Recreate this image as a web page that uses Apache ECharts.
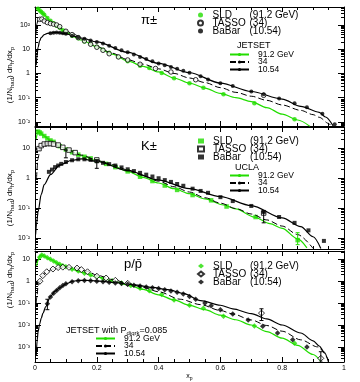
<!DOCTYPE html>
<html>
<head>
<meta charset="utf-8">
<script src="https://cdn.jsdelivr.net/npm/echarts@6/dist/echarts.min.js"></script>
<style>
  html, body { margin: 0; padding: 0; background: #fff; }
  #chart { width: 360px; height: 382px; }
</style>
</head>
<body>
<div id="chart"></div>
<script>
// ---- pi+- panel ----
const piSldX = [0.01,0.015,0.02,0.025,0.03,0.04,0.05,0.06,0.07,0.08,0.09,0.1,0.12,0.14,0.16,0.18,0.2,0.22,0.24,0.27,0.3,0.34,0.37,0.41,0.45,0.5,0.545,0.61,0.71,0.84]
const piSldY = [468,398,347,302,263,195,148,117,93,76,60,49,36,28,21,16.6,12.6,9.5,7.1,4.8,3.2,2.1,1.66,1.05,0.63,0.39,0.26,0.138,0.059,0.013]
const piTassoX = [0.015,0.022,0.03,0.04,0.05,0.06,0.07,0.08,0.1,0.12,0.14,0.16,0.18,0.2,0.22,0.24,0.27,0.3,0.34,0.39,0.44,0.52,0.74]
const piTassoY = [170,175,145,125,115,108,100,85,55,40,30,22,16,12,9,6.5,4.8,3.6,2.4,1.6,1.15,0.55,0.125]
const piBabarX = [0.05,0.06,0.07,0.08,0.09,0.1,0.12,0.14,0.16,0.18,0.2,0.22,0.24,0.26,0.28,0.3,0.32,0.34,0.36,0.38,0.4,0.42,0.44,0.46,0.48,0.5,0.536,0.56,0.6,0.64,0.7,0.74,0.79,0.84,0.88,0.93,0.97]
const piBabarY = [46,48,49,48,46,43,36,31,27,23,20,17,13.8,11.2,9.1,7.4,6.0,4.8,3.9,3.2,2.6,2.2,1.86,1.55,1.29,1.07,0.76,0.56,0.39,0.3,0.18,0.14,0.093,0.059,0.04,0.022,0.008]
const piJ91X = [0.004,0.01,0.02,0.03,0.05,0.07,0.1,0.15,0.2,0.25,0.3,0.35,0.4,0.45,0.5,0.55,0.6,0.65,0.7,0.75,0.8,0.85,0.89]
const piJ91Y = [520,468,340,260,148,93,49,24,12.6,6.3,3.3,1.95,1.15,0.65,0.4,0.25,0.15,0.1,0.069,0.039,0.021,0.012,0.0065]
const piJ34X = [0.003,0.006,0.01,0.015,0.02,0.03,0.045,0.065,0.09,0.12,0.16,0.2,0.25,0.3,0.35,0.4,0.45,0.5,0.55,0.6,0.65,0.7,0.75,0.8,0.86,0.9,0.92,0.95,0.96]
const piJ34Y = [40,110,165,185,180,150,125,105,70,45,24,13,6.8,3.7,2.4,1.55,1.0,0.65,0.42,0.26,0.166,0.115,0.078,0.05,0.03,0.02,0.0155,0.0087,0.0063]
const piJ10X = [0.004,0.006,0.01,0.015,0.02,0.03,0.04,0.05,0.07,0.1,0.15,0.2,0.3,0.4,0.5,0.6,0.7,0.8,0.86,0.92,0.94,0.965]
const piJ10Y = [2.2,5,12,22,30,40,45,47,49,43,29,20,7.4,2.6,1.07,0.4,0.18,0.088,0.044,0.025,0.016,0.0068]

// ---- K+- panel ----
const kSldX = [0.01,0.015,0.02,0.03,0.04,0.05,0.06,0.08,0.1,0.12,0.14,0.16,0.18,0.2,0.23,0.26,0.3,0.34,0.38,0.42,0.46,0.51,0.57,0.62,0.714,0.85]
const kSldY = [35,33,30,25,21,17.8,16,11.5,8.9,7.2,6.0,5.1,4.5,3.8,2.95,2.3,1.66,1.1,0.79,0.56,0.40,0.27,0.18,0.112,0.05,0.0085]
const kTassoX = [0.013,0.02,0.03,0.04,0.05,0.06,0.075,0.09,0.11,0.13,0.2,0.74]
const kTassoY = [9.5,12,13.5,14,14,13.5,12.5,10.5,8.5,7,4.0,0.068]
const kBabarX = [0.045,0.055,0.065,0.075,0.085,0.1,0.12,0.14,0.16,0.18,0.2,0.22,0.24,0.26,0.28,0.3,0.32,0.34,0.36,0.38,0.4,0.42,0.44,0.46,0.48,0.51,0.536,0.56,0.6,0.64,0.7,0.74,0.79,0.84,0.885,0.935]
const kBabarY = [1.6,1.9,2.3,2.6,2.95,3.4,3.9,4.2,4.2,4.0,3.6,3.2,2.9,2.6,2.25,1.95,1.7,1.48,1.29,1.12,0.98,0.85,0.74,0.63,0.55,0.44,0.37,0.32,0.23,0.17,0.117,0.074,0.05,0.032,0.018,0.008]
const kJ91X = [0.004,0.008,0.012,0.02,0.03,0.05,0.08,0.1,0.15,0.2,0.25,0.3,0.35,0.4,0.45,0.5,0.55,0.61,0.65,0.71,0.76,0.8,0.85,0.88]
const kJ91Y = [20,32,35,30,25,17.8,11.5,8.9,5.5,3.8,2.6,1.66,1.05,0.68,0.44,0.3,0.2,0.126,0.093,0.05,0.03,0.021,0.0093,0.0047]
const kJ34X = [0.005,0.01,0.015,0.02,0.03,0.045,0.06,0.08,0.1,0.15,0.2,0.25,0.3,0.35,0.4,0.45,0.5,0.55,0.6,0.65,0.7,0.75,0.8,0.85,0.9]
const kJ34Y = [1.0,4.5,8.5,11.5,14,15,14,11.5,9.3,5.8,4.0,2.8,1.85,1.2,0.78,0.51,0.34,0.22,0.145,0.096,0.063,0.04,0.025,0.013,0.0045]
const kJ10X = [0.002,0.005,0.01,0.02,0.03,0.05,0.08,0.12,0.15,0.2,0.3,0.4,0.5,0.6,0.7,0.8,0.86,0.9,0.925]
const kJ10Y = [0.013,0.03,0.074,0.28,0.6,1.3,2.7,3.9,4.3,3.6,1.75,0.85,0.44,0.24,0.12,0.047,0.024,0.011,0.0045]

// ---- p/pbar panel ----
const pSldX = [0.015,0.022,0.03,0.04,0.05,0.06,0.07,0.08,0.09,0.1,0.12,0.14,0.16,0.18,0.2,0.22,0.25,0.28,0.31,0.34,0.37,0.41,0.45,0.5,0.545,0.61,0.71,0.84]
const pSldY = [12.6,15.8,14.1,11.7,10,8.3,6.9,5.9,5.1,4.6,3.5,2.9,2.3,1.9,1.58,1.32,1.05,0.83,0.63,0.48,0.37,0.25,0.14,0.08,0.058,0.025,0.0091,0.00145]
const pTassoX = [0.016,0.025,0.038,0.058,0.075,0.09,0.11,0.136,0.15,0.17,0.2,0.23,0.26,0.3,0.733,0.925]
const pTassoY = [1.0,1.8,2.7,3.6,4.2,4.4,4.3,4.0,3.4,2.7,1.7,1.4,1.1,0.8,0.035,0.0003]
const pBabarX = [0.04,0.05,0.06,0.07,0.08,0.09,0.1,0.12,0.14,0.16,0.18,0.2,0.22,0.24,0.26,0.28,0.3,0.32,0.34,0.36,0.38,0.4,0.42,0.44,0.46,0.48,0.5,0.52,0.55,0.57,0.6,0.64,0.69,0.737,0.785,0.834,0.88]
const pBabarY = [0.093,0.19,0.28,0.38,0.5,0.63,0.76,0.95,1.05,1.07,1.05,1.0,0.95,0.89,0.83,0.78,0.72,0.66,0.6,0.55,0.5,0.46,0.41,0.36,0.31,0.26,0.2,0.15,0.1,0.075,0.05,0.032,0.017,0.0087,0.0043,0.0021,0.001]
const pJ91X = [0.005,0.01,0.015,0.02,0.03,0.05,0.08,0.1,0.15,0.2,0.25,0.3,0.35,0.4,0.45,0.5,0.55,0.6,0.65,0.7,0.75,0.8,0.85,0.9,0.925]
const pJ91Y = [5,9,14,16,14,10,5.9,4.6,2.6,1.58,1.05,0.68,0.42,0.24,0.14,0.079,0.05,0.028,0.0174,0.01,0.005,0.0025,0.00117,0.00045,0.00022]
const pJ34X = [0.004,0.006,0.01,0.016,0.025,0.038,0.058,0.09,0.13,0.17,0.2,0.25,0.3,0.35,0.4,0.47,0.536,0.6,0.64,0.7,0.75,0.8,0.86,0.915,0.95]
const pJ34Y = [0.1,0.19,0.6,1.0,1.8,2.7,3.6,4.4,4.1,2.8,1.9,1.2,0.8,0.52,0.33,0.15,0.085,0.046,0.032,0.017,0.0095,0.0052,0.0021,0.001,0.00025]
const pJ10X = [0.004,0.007,0.01,0.015,0.02,0.026,0.035,0.05,0.065,0.08,0.1,0.124,0.146,0.18,0.21,0.26,0.32,0.38,0.43,0.48,0.536,0.6,0.64,0.7,0.75,0.8,0.86,0.9,0.92,0.935,0.95]
const pJ10Y = [0.0004,0.002,0.005,0.011,0.02,0.035,0.07,0.2,0.35,0.5,0.75,1.0,1.1,1.08,1.0,0.86,0.68,0.52,0.41,0.28,0.13,0.08,0.055,0.033,0.019,0.01,0.0043,0.0019,0.0011,0.0006,0.0002]

// error bars [x, low, high]
const kErrBlack = [[0.1,4.7,8.5],[0.2,2.1,4.0],[0.74,0.032,0.074]]
const kErrGreen = [[0.85,0.006,0.015]]
const pErrBlack = [[0.733,0.016,0.055],[0.925,0.0002,0.0006],[0.04,0.05,0.15]]

const GREEN = '#22dd00'
const FONT = 'Liberation Sans'

function pts(xs, ys) { return xs.map((x, i) => [x, ys[i]]) }

const sup = {'-': '\u207b', '0': '\u2070', '1': '\u00b9', '2': '\u00b2', '3': '\u00b3'}
function logLabel(v) {
    let n = Math.log10(v), r = Math.round(n)
    if (Math.abs(n - r) > 1e-6) return ''
    if (r === 0) return '1'
    if (r === 1) return '10'
    return '10' + String(r).split('').map(c => sup[c]).join('')
}

const panels = [
    {key: 'pi', top: 7, height: 119, min: 0.0068, max: 550, sym: 'circle',
     sld: pts(piSldX, piSldY), tasso: pts(piTassoX, piTassoY), babar: pts(piBabarX, piBabarY),
     j91: pts(piJ91X, piJ91Y), j34: pts(piJ34X, piJ34Y), j10: pts(piJ10X, piJ10Y), errB: [], errG: []},
    {key: 'k', top: 127, height: 122, min: 0.0043, max: 50, sym: 'rect',
     sld: pts(kSldX, kSldY), tasso: pts(kTassoX, kTassoY), babar: pts(kBabarX, kBabarY),
     j91: pts(kJ91X, kJ91Y), j34: pts(kJ34X, kJ34Y), j10: pts(kJ10X, kJ10Y), errB: kErrBlack, errG: kErrGreen},
    {key: 'p', top: 251, height: 118, min: 0.000204, max: 24, sym: 'diamond',
     sld: pts(pSldX, pSldY), tasso: pts(pTassoX, pTassoY), babar: pts(pBabarX, pBabarY),
     j91: pts(pJ91X, pJ91Y), j34: pts(pJ34X, pJ34Y), j10: pts(pJ10X, pJ10Y), errB: pErrBlack, errG: []}
]

const names = {
    SLD: ['SLD', '(91.2 GeV)'], TASSO: ['TASSO', '(34)'], BaBar: ['BaBar', '(10.54)'],
    '91': '91.2 GeV', '34': '34', '10': '10.54'
}

function errSeries(i, data, color) {
    return {
        type: 'custom', xAxisIndex: i, yAxisIndex: i, z: 6, silent: true,
        renderItem: function (params, api) {
            let a = api.coord([api.value(0), api.value(1)])
            let b = api.coord([api.value(0), api.value(2)])
            return {type: 'group', children: [
                {type: 'line', shape: {x1: a[0], y1: a[1], x2: b[0], y2: b[1]}, style: {stroke: color, lineWidth: 1}},
                {type: 'line', shape: {x1: a[0] - 2, y1: a[1], x2: a[0] + 2, y2: a[1]}, style: {stroke: color, lineWidth: 1}},
                {type: 'line', shape: {x1: b[0] - 2, y1: b[1], x2: b[0] + 2, y2: b[1]}, style: {stroke: color, lineWidth: 1}}
            ]}
        },
        data: data
    }
}

const grid = [], xAxis = [], yAxis = [], series = [], legend = []

panels.forEach((p, i) => {
    grid.push({left: 35, width: 309, top: p.top, height: p.height})
})
panels.forEach((p, i) => {
    xAxis.push({
        gridIndex: i, type: 'value', min: 0, max: 1, interval: 0.2, position: 'bottom',
        name: i === 2 ? 'x{s|p}' : '', nameLocation: 'middle', nameGap: 10,
        nameTextStyle: {fontFamily: FONT, fontSize: 7, color: '#000', rich: {s: {fontSize: 5, verticalAlign: 'bottom', padding: [4, 0, 0, 0]}}},
        axisLine: {onZero: false, lineStyle: {color: '#000', width: 1}},
        axisTick: {inside: true, length: 5, lineStyle: {color: '#000'}},
        minorTick: {show: true, splitNumber: 4, length: 3, lineStyle: {color: '#000'}},
        splitLine: {show: false},
        axisLabel: {show: i === 2, margin: 3, fontSize: 7, fontFamily: FONT, color: '#000',
            formatter: v => (v === 0 ? '0' : v === 1 ? '1' : v.toFixed(1))}
    })
})
panels.forEach((p, i) => {
    xAxis.push({
        gridIndex: i, type: 'value', min: 0, max: 1, interval: 0.2, position: 'top',
        axisLine: {onZero: false, lineStyle: {color: '#000', width: 1}},
        axisTick: {inside: true, length: 5, lineStyle: {color: '#000'}},
        minorTick: {show: true, splitNumber: 4, length: 3, lineStyle: {color: '#000'}},
        splitLine: {show: false}, axisLabel: {show: false}
    })
})
panels.forEach((p, i) => {
    yAxis.push({
        gridIndex: i, type: 'log', min: p.min, max: p.max, position: 'left',
        axisLine: {onZero: false, lineStyle: {color: '#000', width: 1}},
        axisTick: {inside: true, length: 6, lineStyle: {color: '#000'}},
        minorTick: {show: true, splitNumber: 9, length: 3, lineStyle: {color: '#000'}},
        splitLine: {show: false},
        axisLabel: {margin: 5, fontSize: 7, fontFamily: FONT, color: '#000', formatter: logLabel}
    })
})
panels.forEach((p, i) => {
    yAxis.push({
        gridIndex: i, type: 'log', min: p.min, max: p.max, position: 'right',
        axisLine: {onZero: false, lineStyle: {color: '#000', width: 1}},
        axisTick: {inside: true, length: 6, lineStyle: {color: '#000'}},
        minorTick: {show: true, splitNumber: 9, length: 3, lineStyle: {color: '#000'}},
        splitLine: {show: false}, axisLabel: {show: false}
    })
})

panels.forEach((p, i) => {
    const k = p.key
    series.push(
        {name: k + '91', type: 'line', xAxisIndex: i, yAxisIndex: i, data: p.j91, showSymbol: false, symbol: 'none',
         smooth: 0.3, smoothMonotone: 'x', lineStyle: {color: GREEN, width: 1.2}, itemStyle: {color: GREEN}, z: 2},
        {name: k + 'SLD', type: 'scatter', xAxisIndex: i, yAxisIndex: i, data: p.sld, symbol: p.sym,
         symbolSize: p.sym === 'diamond' ? 5.5 : 4.5, itemStyle: {color: GREEN}, z: 3},
        {name: k + '34', type: 'line', xAxisIndex: i, yAxisIndex: i, data: p.j34, symbol: 'none',
         smooth: 0.3, smoothMonotone: 'x', lineStyle: {color: '#000', width: 1, type: [6, 3]}, itemStyle: {color: '#000'}, z: 4},
        {name: k + 'TASSO', type: 'scatter', xAxisIndex: i, yAxisIndex: i, data: p.tasso, symbol: p.sym,
         symbolSize: p.sym === 'diamond' ? 6 : 4.5, itemStyle: {color: '#fff', borderColor: '#000', borderWidth: 1}, z: 5},
        {name: k + '10', type: 'line', xAxisIndex: i, yAxisIndex: i, data: p.j10, symbol: 'none',
         smooth: 0.3, smoothMonotone: 'x', lineStyle: {color: '#000', width: 1.2}, itemStyle: {color: '#000'}, z: 4},
        {name: k + 'BaBar', type: 'scatter', xAxisIndex: i, yAxisIndex: i, data: p.babar, symbol: p.sym,
         symbolSize: p.sym === 'diamond' ? 5.5 : 4, itemStyle: {color: '#000'}, z: 5}
    )
    if (p.errB.length) series.push(errSeries(i, p.errB, '#000'))
    if (p.errG.length) series.push(errSeries(i, p.errG, GREEN))
})

// marker legends (upper right of each panel)
const legA = [{key: 'pi', top: 10}, {key: 'k', top: 136}, {key: 'p', top: 261}]
legA.forEach(l => {
    legend.push({
        orient: 'vertical', left: 197, top: l.top, itemWidth: 6, itemHeight: 5, itemGap: -2, padding: 0,
        selectedMode: false,
        data: ['SLD', 'TASSO', 'BaBar'].map(n => l.key + n),
        formatter: name => {
            const t = names[name.replace(l.key, '')]
            return '{a|' + t[0] + '}{b|' + t[1] + '}'
        },
        textStyle: {fontFamily: FONT, fontSize: 10, lineHeight: 8, color: '#000',
            rich: {a: {width: 37, fontSize: 10, lineHeight: 8, padding: [0, 0, 0, 4], fontFamily: FONT},
                   b: {fontSize: 10, lineHeight: 8, fontFamily: FONT}}}
    })
})
// model-curve legends
const legB = [{key: 'pi', left: 229, top: 50}, {key: 'k', left: 229, top: 171}, {key: 'p', left: 95, top: 334}]
legB.forEach(l => {
    legend.push({
        orient: 'vertical', left: l.left, top: l.top, itemWidth: 19, itemHeight: 4, itemGap: -1.5, padding: 0,
        selectedMode: false,
        data: ['91', '34', '10'].map(n => l.key + n),
        formatter: name => '{a|' + names[name.replace(l.key, '')] + '}',
        textStyle: {fontFamily: FONT, fontSize: 8.5, lineHeight: 7, color: '#000',
            rich: {a: {fontSize: 8.5, lineHeight: 7, padding: [0, 0, 0, 4], fontFamily: FONT}}}
    })
})

const txt = (text, left, top, size) => ({text: text, left: left, top: top, padding: 0,
    textStyle: {fontFamily: FONT, fontSize: size, fontWeight: 'normal', color: '#000'}})

const title = [
    txt('\u03c0\u00b1', 141, 14, 13),
    txt('JETSET', 237, 41, 9),
    txt('K\u00b1', 141, 140, 13),
    txt('UCLA', 235, 163, 9),
    txt('p/p\u0304', 124, 258, 13),
    {text: 'JETSET with P{s|diqrk}=0.085', left: 66, top: 325, padding: 0,
     textStyle: {fontFamily: FONT, fontSize: 9, fontWeight: 'normal', color: '#000',
        rich: {s: {fontSize: 6, fontFamily: FONT, padding: [5, 0, 0, 0]}}}}
]

const yTitle = '(1/N{s|had}) dn{s|h}/dx{s|p}'
const graphic = [75, 198, 280].map(y => ({
    type: 'text', x: 10, y: y, rotation: Math.PI / 2,
    style: {text: yTitle, fontFamily: FONT, fontSize: 8, fill: '#000', align: 'center', verticalAlign: 'middle',
        rich: {s: {fontSize: 6, fontFamily: FONT, padding: [4, 0, 0, 0]}}}
}))

const chart = echarts.init(document.getElementById('chart'), null, {renderer: 'canvas'})
chart.setOption({
    animation: false,
    backgroundColor: '#fff',
    title: title,
    legend: legend,
    grid: grid,
    xAxis: xAxis,
    yAxis: yAxis,
    series: series,
    graphic: graphic
})
</script>
</body>
</html>
